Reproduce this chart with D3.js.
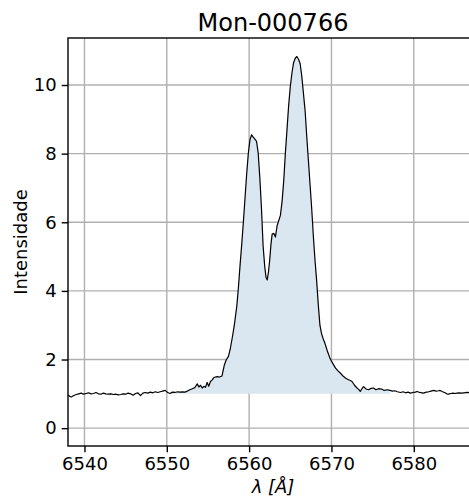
<!DOCTYPE html>
<html>
<head>
<meta charset="utf-8">
<script src="https://cdn.jsdelivr.net/npm/d3@7"></script>
<style>
  body { margin: 0; background: #fff; }
  svg { font-family: "DejaVu Sans", sans-serif; }
</style>
</head>
<body>
<svg id="chart" width="469" height="498"></svg>
<script>
// spectrum, [wavelength (A), intensity]
const blueContinuum = [
  [6538.0,0.97],[6538.2,0.93],[6538.4,0.91],[6538.7,0.95],[6539.0,0.98],[6539.3,1.00],
  [6539.6,1.02],[6539.9,0.99],[6540.2,1.01],[6540.5,1.03],[6540.8,1.00],[6541.1,1.01],
  [6541.4,1.04],[6541.7,1.00],[6542.0,0.99],[6542.3,1.02],[6542.6,1.00],[6542.9,0.99],
  [6543.2,1.00],[6543.5,0.98],[6543.8,0.99],[6544.1,0.97],[6544.4,0.98],[6544.7,1.00],
  [6545.0,0.99],[6545.3,1.02],[6545.6,1.00],[6545.9,0.96],[6546.2,1.01],[6546.5,1.03],
  [6546.8,0.95],[6547.1,1.02],[6547.4,1.04],[6547.7,1.02],[6548.0,1.05],[6548.3,1.03],
  [6548.6,1.06],[6548.9,1.04],[6549.2,1.06],[6549.5,1.08],[6549.8,1.10],[6550.1,1.04],
  [6550.4,1.01]
];
const blueWing = [
  [6550.7,1.05],[6551.0,1.04],[6551.3,1.06],[6551.6,1.05],[6551.9,1.06],[6552.2,1.05],
  [6552.5,1.08],[6552.8,1.12],[6553.1,1.15],[6553.4,1.18],[6553.7,1.29],[6553.9,1.20],
  [6554.1,1.25],[6554.3,1.17],[6554.5,1.22],[6554.7,1.19],[6554.9,1.33],[6555.1,1.22],
  [6555.3,1.36],[6555.5,1.40],[6555.7,1.47],[6555.9,1.49],[6556.1,1.50],[6556.4,1.49],
  [6556.7,1.52],[6557.0,1.85],[6557.2,1.98],[6557.5,2.10],[6557.7,2.30],[6558.0,2.70],
  [6558.2,3.00],[6558.5,3.55],[6558.7,4.10],[6558.9,4.75],[6559.1,5.35],[6559.3,6.00],
  [6559.5,6.70],[6559.7,7.40],[6559.9,8.00]
];
const lineCore = [
  [6560.1,8.40],[6560.3,8.55],[6560.5,8.48],[6560.7,8.42],[6560.9,8.36],[6561.1,8.02],
  [6561.3,7.30],[6561.5,6.40],[6561.7,5.30],[6561.9,4.70],[6562.05,4.40],[6562.2,4.32],
  [6562.35,4.55],[6562.5,4.90],[6562.65,5.35],[6562.8,5.66],[6563.0,5.68],[6563.2,5.57],
  [6563.4,5.90],[6563.6,6.05],[6563.8,6.20],[6564.0,6.60],[6564.2,7.20],[6564.4,8.00],
  [6564.6,8.70],[6564.8,9.40],[6565.0,9.95],[6565.2,10.35],[6565.4,10.65],[6565.6,10.78],
  [6565.8,10.83],[6566.0,10.75],[6566.2,10.62],[6566.4,10.25],[6566.6,9.75],[6566.8,9.25],
  [6567.0,8.50],[6567.2,7.80],[6567.4,7.10],[6567.6,6.40],[6567.8,5.60],[6568.0,4.90],
  [6568.2,4.30],[6568.4,3.60],[6568.6,3.00],[6568.8,2.75],[6569.0,2.60],[6569.2,2.48]
];
const redWing = [
  [6569.5,2.25],[6569.85,2.02],[6570.05,1.93],[6570.25,1.85],[6570.5,1.75],[6570.8,1.67],
  [6571.1,1.60],[6571.4,1.52],[6571.7,1.46],[6572.0,1.42],[6572.3,1.39],[6572.5,1.36],
  [6572.8,1.25],[6573.1,1.17],[6573.3,1.13],[6573.5,1.07],[6573.7,1.15],[6573.9,1.21],
  [6574.2,1.14],[6574.5,1.12],[6574.8,1.16],[6575.1,1.17],[6575.4,1.12],[6575.7,1.15],
  [6576.1,1.14],[6576.4,1.10],[6576.8,1.12],[6577.1,1.10]
];
const redContinuum = [
  [6577.4,1.08],[6577.7,1.09],[6578.0,1.06],[6578.4,1.04],[6578.7,1.06],[6579.0,1.03],
  [6579.3,1.05],[6579.6,1.02],[6579.9,1.04],[6580.2,1.05],[6580.4,1.07],[6580.7,1.04],
  [6581.0,1.03],[6581.2,1.02],[6581.5,1.05],[6581.8,1.06],[6582.1,1.08],[6582.4,1.10],
  [6582.7,1.08],[6583.0,1.09],[6583.2,1.10],[6583.5,1.06],[6583.8,1.03],[6584.0,1.00],
  [6584.2,0.99],[6584.5,1.01],[6584.8,1.02],[6585.0,1.01],[6585.25,1.02],[6585.5,1.03],
  [6585.8,1.02],[6586.1,1.03],[6586.5,1.04],[6586.8,1.03],[6587.1,1.05],[6587.4,1.03],
  [6587.8,1.04]
];
const fillRange = [6550.4, 6577.1];
const xTicks = [6540, 6550, 6560, 6570, 6580];
const yTicks = [0, 2, 4, 6, 8, 10];

const spectrum = [...blueContinuum, ...blueWing, ...lineCore, ...redWing, ...redContinuum];

const svg = d3.select('#chart'),
  margin = { top: 38, left: 68, bottom: 52 },
  plotWidth = 410,
  plotHeight = 498 - margin.top - margin.bottom;

const x = d3.scaleLinear().domain([6538.0, 6587.8]).range([0, plotWidth]);
const y = d3.scaleLinear().domain([-0.52, 11.37]).range([plotHeight, 0]);

const graph = svg.append('g')
  .attr('transform', `translate(${margin.left},${margin.top})`);

// grid
graph.append('g')
  .selectAll('line.gx')
  .data(xTicks)
  .join('line')
  .attr('x1', d => x(d)).attr('x2', d => x(d))
  .attr('y1', 0).attr('y2', plotHeight)
  .attr('stroke', '#b0b0b0').attr('stroke-width', 1.4);
graph.append('g')
  .selectAll('line.gy')
  .data(yTicks)
  .join('line')
  .attr('y1', d => y(d)).attr('y2', d => y(d))
  .attr('x1', 0).attr('x2', plotWidth)
  .attr('stroke', '#b0b0b0').attr('stroke-width', 1.4);

// filled emission region above the continuum level
const area = d3.area()
  .x(d => x(d[0]))
  .y0(y(1))
  .y1(d => y(d[1]));
graph.append('path')
  .datum(spectrum.filter(d => d[0] >= fillRange[0] && d[0] <= fillRange[1]))
  .attr('d', area)
  .attr('fill', 'rgb(218,230,240)');

const line = d3.line().x(d => x(d[0])).y(d => y(d[1]));
graph.append('path')
  .datum(spectrum)
  .attr('d', line)
  .attr('fill', 'none')
  .attr('stroke', '#000')
  .attr('stroke-width', 1.2)
  .attr('stroke-linejoin', 'round');

// axes
const xAxis = d3.axisBottom(x).tickValues(xTicks).tickFormat(d3.format('d'))
  .tickSize(6.3).tickPadding(5);
const yAxis = d3.axisLeft(y).tickValues(yTicks).tickFormat(d3.format('d'))
  .tickSize(6.3).tickPadding(5);

const xAxisGroup = graph.append('g')
  .attr('transform', `translate(0, ${plotHeight})`)
  .call(xAxis);
const yAxisGroup = graph.append('g').call(yAxis);

[xAxisGroup, yAxisGroup].forEach(g => {
  g.select('.domain').remove();
  g.selectAll('line').attr('stroke', '#000').attr('stroke-width', 1.4);
  g.selectAll('text')
    .attr('fill', '#000')
    .style('font-size', '18px')
    .style('font-family', '"DejaVu Sans", sans-serif');
});

// spines
graph.append('rect')
  .attr('width', plotWidth).attr('height', plotHeight)
  .attr('fill', 'none').attr('stroke', '#000').attr('stroke-width', 1.4);

// labels
svg.append('text')
  .attr('x', margin.left + plotWidth / 2).attr('y', 31)
  .attr('text-anchor', 'middle')
  .style('font-size', '24px')
  .text('Mon-000766');

svg.append('text')
  .attr('x', margin.left + plotWidth / 2).attr('y', 493)
  .attr('text-anchor', 'middle')
  .style('font-size', '18px')
  .style('font-style', 'italic')
  .text('λ [Å]');

svg.append('text')
  .attr('transform', `translate(27, ${margin.top + plotHeight / 2}) rotate(-90)`)
  .attr('text-anchor', 'middle')
  .style('font-size', '18px')
  .text('Intensidade');
</script>
</body>
</html>
